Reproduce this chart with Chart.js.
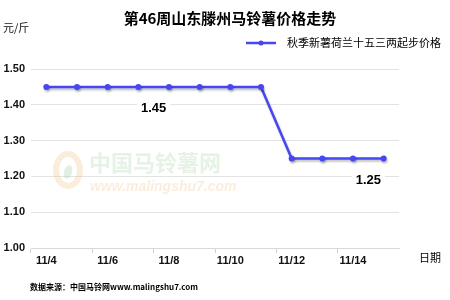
<!DOCTYPE html>
<html><head><meta charset="utf-8">
<script src="https://cdn.jsdelivr.net/npm/chart.js@4"></script>
<style>html,body{margin:0;padding:0;background:#fff}#wrap{width:450px;height:300px;position:relative}</style>
</head><body><div id="wrap"><canvas id="c" width="450" height="300"></canvas></div>
<script>
const categories = ['11/4','11/5','11/6','11/7','11/8','11/9','11/10','11/11','11/12','11/13','11/14','11/15'];
const prices = [1.45,1.45,1.45,1.45,1.45,1.45,1.45,1.45,1.25,1.25,1.25,1.25];
const seriesName = '秋季新薯荷兰十五三两起步价格';
const titleText = '第46周山东滕州马铃薯价格走势';
const unitText = '元/斤';
const xTitleText = '日期';
const sourceText = '数据来源：中国马铃网www.malingshu7.com';
// value labels: [value, between index a and b]
const valueLabels = [[1.45, 3, 4], [1.25, 10, 11]];

const LINE = '#4646f2';
const CJK = '"Noto Sans CJK SC", "Noto Sans", sans-serif';

const extras = {
  id: 'extras',
  beforeDatasetsDraw(chart) {
    const c = chart.ctx;
    c.save();
    // watermark logo
    c.strokeStyle = 'rgba(240,190,130,0.28)';
    c.lineWidth = 6;
    c.beginPath(); c.ellipse(68, 170, 12, 16, 0, 0, Math.PI * 2); c.stroke();
    c.fillStyle = 'rgba(150,200,150,0.28)';
    c.beginPath(); c.ellipse(68, 172, 4, 7, 0.3, 0, Math.PI * 2); c.fill();
    c.font = 'bold 22px ' + CJK;
    c.fillStyle = 'rgba(150,205,150,0.25)';
    c.textBaseline = 'middle'; c.textAlign = 'left';
    c.fillText('中国马铃薯网', 89, 163);
    c.font = 'italic bold 14px "Liberation Sans", Arial, sans-serif';
    c.fillStyle = 'rgba(240,190,130,0.28)';
    c.fillText('www.malingshu7.com', 90, 187);
    c.restore();
  },
  beforeDatasetDraw(chart) {
    const c = chart.ctx;
    c.save();
    c.shadowColor = 'rgba(0,0,0,0.25)';
    c.shadowOffsetX = 1; c.shadowOffsetY = 2; c.shadowBlur = 2;
  },
  afterDatasetDraw(chart) { chart.ctx.restore(); },
  afterDraw(chart) {
    const c = chart.ctx;
    const xs = chart.scales.x, ys = chart.scales.y;
    c.save();
    c.textBaseline = 'middle';
    // title
    c.fillStyle = '#000';
    c.font = 'bold 15px ' + CJK;
    c.textAlign = 'center';
    c.fillText(titleText, 230, 18);
    // unit
    c.font = '11px ' + CJK;
    c.textAlign = 'left';
    c.fillStyle = '#111';
    c.fillText(unitText, 3, 28);
    // legend
    c.strokeStyle = LINE; c.lineWidth = 2.5;
    c.beginPath(); c.moveTo(246, 43); c.lineTo(276, 43); c.stroke();
    c.fillStyle = LINE;
    c.beginPath(); c.arc(261, 43, 2.5, 0, Math.PI * 2); c.fill();
    c.fillStyle = '#000';
    c.font = '11px ' + CJK;
    c.fillText(seriesName, 287, 43);
    // x title
    c.font = '11px ' + CJK;
    c.fillText(xTitleText, 419, 258);
    // source
    c.font = 'bold 8px ' + CJK;
    c.fillText(sourceText, 30, 287);
    // value labels
    c.font = 'bold 13px "Liberation Sans", Arial, sans-serif';
    c.textAlign = 'center';
    valueLabels.forEach(([v, a, b]) => {
      const x = (xs.getPixelForValue(a) + xs.getPixelForValue(b)) / 2;
      const y = ys.getPixelForValue(v) + 22;
      const t = v.toFixed(2);
      const w = c.measureText(t).width + 8;
      c.fillStyle = '#fff';
      c.fillRect(x - w / 2, y - 8, w, 16);
      c.fillStyle = '#000';
      c.fillText(t, x, y);
    });
    c.restore();
  }
};

new Chart(document.getElementById('c'), {
  type: 'line',
  data: {
    labels: categories,
    datasets: [{
      label: seriesName,
      data: prices,
      borderColor: LINE,
      backgroundColor: LINE,
      borderWidth: 2.5,
      pointRadius: 3,
      pointBorderWidth: 0,
      pointBackgroundColor: LINE,
      tension: 0,
      fill: false
    }]
  },
  options: {
    responsive: false,
    animation: false,
    devicePixelRatio: 1,
    layout: { padding: { left: 0, top: 69, right: 51, bottom: 0 } },
    plugins: { legend: { display: false }, title: { display: false }, tooltip: { enabled: false } },
    scales: {
      x: {
        offset: true,
        afterFit(s) { s.height = 52; },
        grid: {
          offset: true,
          drawOnChartArea: false,
          drawTicks: true,
          tickLength: 5,
          color: (ctx) => (ctx.index % 2 === 0 ? '#d0d0d0' : 'rgba(0,0,0,0)')
        },
        border: { display: true, color: '#d9d9d9' },
        ticks: {
          autoSkip: false,
          maxRotation: 0,
          padding: 1,
          color: '#111',
          font: { family: '"Liberation Sans", Arial, sans-serif', size: 11, weight: 'bold' },
          callback: (v, i) => (i % 2 === 0 ? categories[i] : '')
        }
      },
      y: {
        min: 1.0, max: 1.5,
        afterFit(s) { s.width = 31; },
        grid: { color: '#e3e3e3', drawTicks: false },
        border: { display: false },
        ticks: {
          stepSize: 0.1,
          padding: 6,
          color: '#111',
          font: { family: '"Liberation Sans", Arial, sans-serif', size: 11, weight: 'bold' },
          callback: (v) => Number(v).toFixed(2)
        }
      }
    }
  },
  plugins: [extras]
});
</script></body></html>
